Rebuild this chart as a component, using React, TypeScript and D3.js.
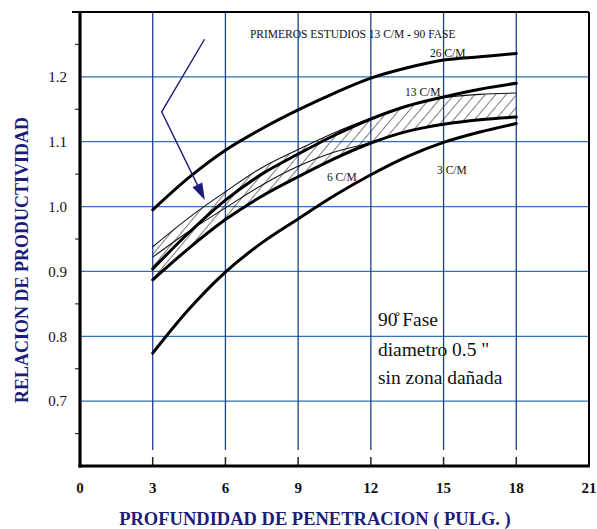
import React from 'react';
import * as d3 from 'd3';

const W = 597;
const H = 529;

// x positions (pulgadas) where the curves were read
const xs = [3, 4.5, 6, 7.5, 9, 10.5, 12, 13.5, 15, 16.5, 18];
// curves (relacion de productividad)
const cm26 = [0.995, 1.045, 1.087, 1.120, 1.149, 1.175, 1.198, 1.214, 1.226, 1.231, 1.236];
const cm13 = [0.904, 0.960, 1.010, 1.050, 1.081, 1.110, 1.135, 1.155, 1.169, 1.181, 1.190];
const cm6 = [0.887, 0.936, 0.980, 1.016, 1.046, 1.074, 1.098, 1.116, 1.127, 1.134, 1.138];
const cm3 = [0.774, 0.842, 0.899, 0.944, 0.981, 1.017, 1.049, 1.077, 1.099, 1.115, 1.128];
// "primeros estudios" band
const hatchTop = [0.938, 0.983, 1.023, 1.060, 1.088, 1.114, 1.136, 1.155, 1.168, 1.173, 1.175];
const hatchMid = [0.922, 0.962, 0.998, 1.033, 1.062, 1.084, 1.098];

const xTicks = [0, 3, 6, 9, 12, 15, 18, 21];
const xGrid = [3, 6, 9, 12, 15, 18];
const yTicks = [0.7, 0.8, 0.9, 1.0, 1.1, 1.2];
const yMinor = [0.65, 0.75, 0.85, 0.95, 1.05, 1.15, 1.25];

const curveNames = ['26 C/M', '13 C/M', '6 C/M', '3 C/M'];
const title = 'PRIMEROS ESTUDIOS 13 C/M - 90  FASE';
const xTitle = 'PROFUNDIDAD DE PENETRACION ( PULG. )';
const yTitle = 'RELACION DE PRODUCTIVIDAD';
const boxLines = ['90\u030A Fase', 'diametro 0.5  "', 'sin zona dañada'];
// arrow path in data coordinates [x, y]
const arrowX = [5.14, 3.37, 5.15];
const arrowY = [1.258, 1.146, 1.010];

export default function App() {
  const x = d3.scaleLinear().domain([0, 21]).range([80, 589]);
  const y = d3.scaleLinear().domain([0.6, 1.3]).range([466, 12]);

  const line = (vals: number[]) =>
    d3
      .line<number>()
      .x((_, i) => x(xs[i]))
      .y((d) => y(d))
      .curve(d3.curveCatmullRom.alpha(0.5))(vals) || '';

  const area =
    d3
      .area<number>()
      .x((_, i) => x(xs[i]))
      .y0((_, i) => y(cm6[i]))
      .y1((d) => y(d))
      .curve(d3.curveCatmullRom.alpha(0.5))(hatchTop) || '';

  const serif = '"Liberation Serif", "DejaVu Serif", serif';
  const navy = '#1c1c7a';
  const hGrid = '#2f72b8';
  const vGrid = '#1d3f90';

  // arrow
  const ap = arrowX.map((d, i) => [x(d), y(arrowY[i])] as [number, number]);
  const tip = ap[2];
  const prev = ap[1];
  const ang = Math.atan2(tip[1] - prev[1], tip[0] - prev[0]);
  const hl = 17;
  const hw = 5.5;
  const bx = tip[0] - hl * Math.cos(ang);
  const by = tip[1] - hl * Math.sin(ang);
  const head = [
    [tip[0], tip[1]],
    [bx + hw * Math.sin(ang), by - hw * Math.cos(ang)],
    [bx - hw * Math.sin(ang), by + hw * Math.cos(ang)],
  ];
  const shaftEnd = [tip[0] - (hl - 2) * Math.cos(ang), tip[1] - (hl - 2) * Math.sin(ang)];

  const thick = 3;

  return (
    <svg
      width={W}
      height={H}
      style={{ position: 'absolute', left: 0, top: 0, background: '#fff' }}
      fontFamily={serif}
    >
      <defs>
        <pattern
          id="hatch"
          width={8}
          height={8}
          patternUnits="userSpaceOnUse"
          patternTransform="rotate(40)"
        >
          <line x1={0} y1={0} x2={0} y2={8} stroke="#111" strokeWidth={1.1} />
        </pattern>
      </defs>
      <rect x={0} y={0} width={W} height={H} fill="#fff" />

      {/* horizontal grid */}
      {yTicks.map((t) => (
        <line
          key={'hg' + t}
          x1={x(0)}
          x2={x(21)}
          y1={y(t)}
          y2={y(t)}
          stroke={hGrid}
          strokeWidth={1.3}
        />
      ))}
      {/* vertical grid */}
      {xGrid.map((t) => (
        <g key={'vg' + t}>
          <line
            x1={x(t)}
            x2={x(t)}
            y1={y(1.3)}
            y2={450}
            stroke={vGrid}
            strokeWidth={1.3}
          />
          <line x1={x(t)} x2={x(t)} y1={457} y2={y(0.6)} stroke="#222" strokeWidth={1.5} />
        </g>
      ))}
      {/* y minor ticks */}
      {yMinor.map((t) => (
        <line
          key={'ym' + t}
          x1={x(0) - 5}
          x2={x(0)}
          y1={y(t)}
          y2={y(t)}
          stroke="#333"
          strokeWidth={1.2}
        />
      ))}

      {/* hatched band */}
      <path d={area} fill="url(#hatch)" stroke="none" />
      <path d={line(hatchTop)} fill="none" stroke="#111" strokeWidth={1.1} />
      <path
        d={
          d3
            .line<number>()
            .x((_, i) => x(xs[i]))
            .y((d) => y(d))
            .curve(d3.curveCatmullRom.alpha(0.5))(hatchMid) || ''
        }
        fill="none"
        stroke="#111"
        strokeWidth={1.1}
      />

      {/* curves */}
      {[cm26, cm13, cm6, cm3].map((c, i) => (
        <path
          key={'c' + i}
          d={line(c)}
          fill="none"
          stroke="#000"
          strokeWidth={thick}
          strokeLinecap="round"
        />
      ))}

      {/* frame */}
      <line x1={72} x2={x(21)} y1={y(1.3)} y2={y(1.3)} stroke="#000" strokeWidth={2.2} />
      <line x1={x(21)} x2={x(21)} y1={y(1.3)} y2={y(0.6)} stroke="#000" strokeWidth={2} />
      <line x1={x(0)} x2={x(0)} y1={y(1.3) - 1} y2={y(0.6) + 1.5} stroke="#000" strokeWidth={3.2} />
      <line x1={x(0) - 1.5} x2={x(21) + 1} y1={y(0.6)} y2={y(0.6)} stroke="#000" strokeWidth={3.2} />

      {/* arrow */}
      <polyline
        points={[ap[0], ap[1], shaftEnd].map((p) => p.join(',')).join(' ')}
        fill="none"
        stroke={navy}
        strokeWidth={1.4}
      />
      <polygon points={head.map((p) => p.join(',')).join(' ')} fill={navy} />

      {/* curve labels */}
      <g fontSize={11.5} fill="#111">
        <text x={x(14.44)} y={y(1.231)}>{curveNames[0]}</text>
        <text x={x(13.41)} y={y(1.17)}>{curveNames[1]}</text>
        <text x={x(10.19)} y={y(1.039)}>{curveNames[2]}</text>
        <text x={x(14.73)} y={y(1.05)}>{curveNames[3]}</text>
      </g>
      <text x={x(7.01)} y={y(1.26)} fontSize={11.5} fill="#111">
        {title}
      </text>

      {/* box text */}
      <g fontSize={19.5} fill="#111">
        <text x={x(12.29)} y={y(0.816)}>{boxLines[0]}</text>
        <text x={x(12.29)} y={y(0.77)}>{boxLines[1]}</text>
        <text x={x(12.29)} y={y(0.726)}>{boxLines[2]}</text>
      </g>

      {/* tick labels */}
      {yTicks.map((t) => (
        <text
          key={'yl' + t}
          x={67}
          y={y(t)}
          dy="0.35em"
          textAnchor="end"
          fontSize={15}
          fill="#111"
        >
          {d3.format('.1f')(t)}
        </text>
      ))}
      {xTicks.map((t) => (
        <text
          key={'xl' + t}
          x={x(t)}
          y={493}
          textAnchor="middle"
          fontSize={15}
          fontWeight="bold"
          fill="#111"
        >
          {t}
        </text>
      ))}

      {/* axis titles */}
      <text
        x={315}
        y={525}
        textAnchor="middle"
        fontSize={18.5}
        fontWeight="bold"
        fill={navy}
      >
        {xTitle}
      </text>
      <text
        transform={`translate(28, 260) rotate(-90)`}
        textAnchor="middle"
        fontSize={18}
        fontWeight="bold"
        fill={navy}
      >
        {yTitle}
      </text>
    </svg>
  );
}
